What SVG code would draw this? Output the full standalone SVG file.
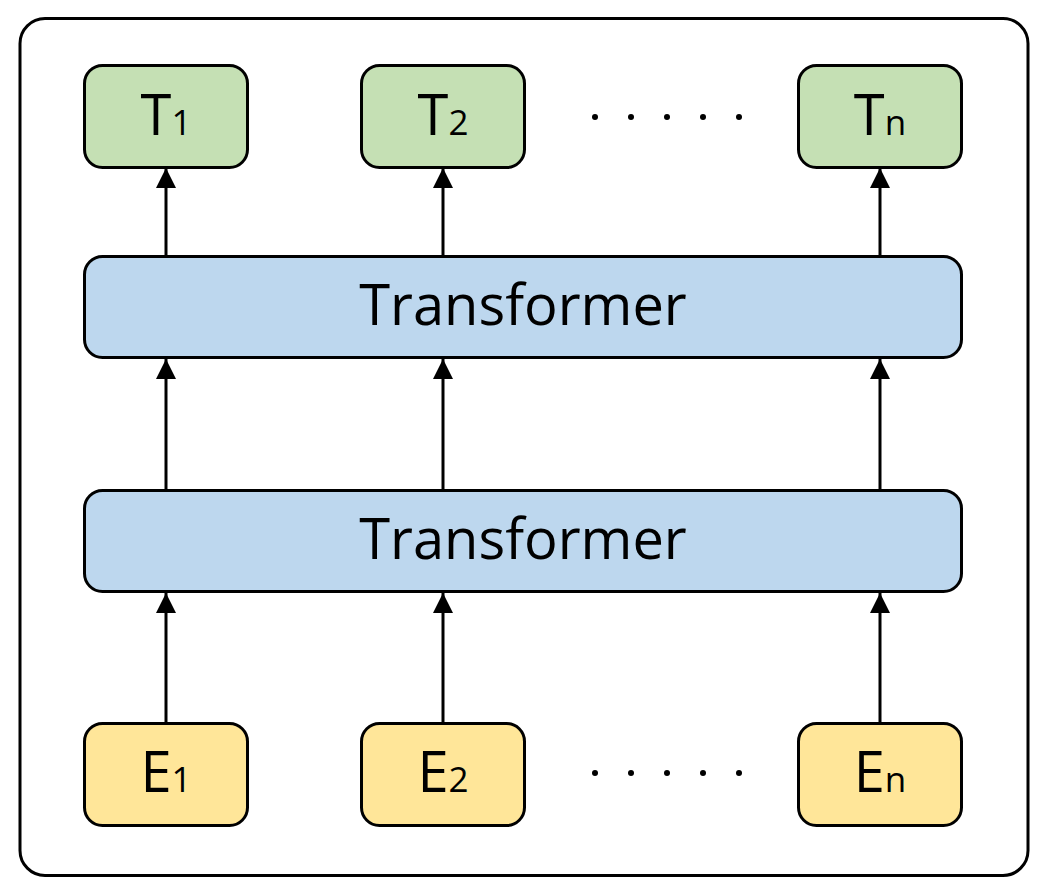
<svg xmlns="http://www.w3.org/2000/svg" width="1041" height="894" viewBox="0 0 1041 894">
<defs>
<style>
.box{stroke:#000;stroke-width:3}
.t{fill:#C5E0B4}
.b{fill:#BDD7EE}
.e{fill:#FFE699}
.lbl{font-family:"Open Sans","Liberation Sans",sans-serif;font-size:56px;fill:#000;text-anchor:middle}
.sub{font-size:35px}
.c{stroke:#000;stroke-width:3;fill:none;marker-end:url(#ah)}
</style>
<marker id="ah" markerUnits="userSpaceOnUse" markerWidth="20" markerHeight="22" refX="20" refY="10" orient="auto" viewBox="0 0 20 20">
<path d="M0,0 L20,10 L0,20 Z" fill="#000"/>
</marker>
</defs>
<rect width="1041" height="894" fill="#fff"/>
<rect id="frame" x="20" y="18.5" width="1008" height="857" rx="25" fill="none" stroke="#000" stroke-width="3"/>
<g id="connectors">
<line class="c" x1="166" y1="256" x2="166" y2="168"/>
<line class="c" x1="443" y1="256" x2="443" y2="168"/>
<line class="c" x1="880" y1="256" x2="880" y2="168"/>
<line class="c" x1="166" y1="490" x2="166" y2="359"/>
<line class="c" x1="443" y1="490" x2="443" y2="359"/>
<line class="c" x1="880" y1="490" x2="880" y2="359"/>
<line class="c" x1="166" y1="723" x2="166" y2="593"/>
<line class="c" x1="443" y1="723" x2="443" y2="593"/>
<line class="c" x1="880" y1="723" x2="880" y2="593"/>
</g>
<g id="T1"><rect class="box t" x="84.5" y="65.5" width="163" height="102" rx="18"/><text class="lbl" x="166" y="135">T<tspan class="sub">1</tspan></text></g>
<g id="T2"><rect class="box t" x="361.5" y="65.5" width="163" height="102" rx="18"/><text class="lbl" x="443" y="135">T<tspan class="sub">2</tspan></text></g>
<g id="Tn"><rect class="box t" x="798.5" y="65.5" width="163" height="102" rx="18"/><text class="lbl" x="880" y="135">T<tspan class="sub">n</tspan></text></g>
<g id="dotsTop" fill="#000"><circle cx="595" cy="117" r="3"/><circle cx="631" cy="117" r="3"/><circle cx="667" cy="117" r="3"/><circle cx="703" cy="117" r="3"/><circle cx="739" cy="117" r="3"/></g>
<g id="Transformer1"><rect class="box b" x="84.5" y="256.5" width="877" height="101" rx="18"/><text class="lbl" x="523" y="325">Transformer</text></g>
<g id="Transformer2"><rect class="box b" x="84.5" y="490.5" width="877" height="101" rx="18"/><text class="lbl" x="523" y="559">Transformer</text></g>
<g id="E1"><rect class="box e" x="84.5" y="723.5" width="163" height="102" rx="18"/><text class="lbl" x="166" y="792">E<tspan class="sub">1</tspan></text></g>
<g id="E2"><rect class="box e" x="361.5" y="723.5" width="163" height="102" rx="18"/><text class="lbl" x="443" y="792">E<tspan class="sub">2</tspan></text></g>
<g id="En"><rect class="box e" x="798.5" y="723.5" width="163" height="102" rx="18"/><text class="lbl" x="880" y="792">E<tspan class="sub">n</tspan></text></g>
<g id="dotsBottom" fill="#000"><circle cx="595" cy="773" r="3"/><circle cx="631" cy="773" r="3"/><circle cx="667" cy="773" r="3"/><circle cx="703" cy="773" r="3"/><circle cx="739" cy="773" r="3"/></g>
</svg>
